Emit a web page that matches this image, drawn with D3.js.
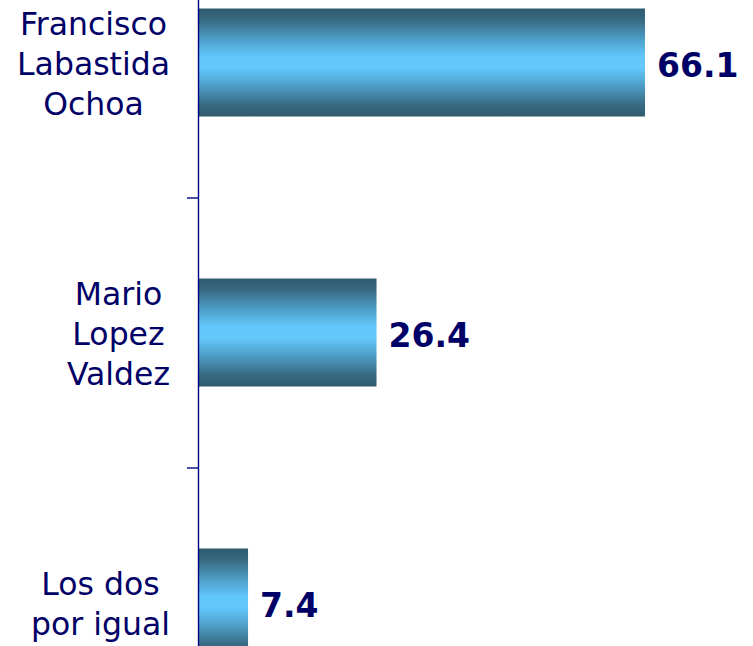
<!DOCTYPE html>
<html>
<head>
<meta charset="utf-8">
<script src="https://cdn.jsdelivr.net/npm/d3@7"></script>
<style>
  body { margin: 0; background: #fff; }
  svg { display: block; }
  text { font-family: "DejaVu Sans", Verdana, sans-serif; fill: #000066; }
</style>
</head>
<body>
<div id="chart"></div>
<script>
"use strict";

// data
var categories = ["Francisco Labastida Ochoa", "Mario Lopez Valdez", "Los dos por igual"];
var labelLines = [["Francisco", "Labastida", "Ochoa"], ["Mario", "Lopez", "Valdez"], ["Los dos", "por igual"]];
var values = [66.1, 26.4, 7.4];

var width = 753, height = 646;

var svg = d3.select("#chart").append("svg")
    .attr("width", width)
    .attr("height", height);

// gradient for the bars (dark edges, light middle)
var grad = svg.append("defs").append("linearGradient")
    .attr("id", "barGrad")
    .attr("x1", 0).attr("y1", 0).attr("x2", 0).attr("y2", 1);
[[0, "#2f5b70"], [0.1, "#37687f"], [0.3, "#4fa2cc"], [0.45, "#63c8fc"],
 [0.55, "#63c8fc"], [0.7, "#4fa2cc"], [0.9, "#37687f"], [1, "#2f5b70"]]
    .forEach(function (s) {
        grad.append("stop").attr("offset", s[0]).attr("stop-color", s[1]);
    });

// scales (plot area runs past the visible page at top and bottom)
var x = d3.scaleLinear().domain([0, 66.1]).range([198, 645]);
var y = d3.scaleBand().domain(categories)
    .range([-72.5, 737.5])
    .paddingInner(0.6)
    .paddingOuter(0.3);
var yEdge = d3.scaleLinear().domain([0, categories.length]).range([-72.5, 737.5]);

// bars
svg.selectAll("rect.bar")
    .data(values)
    .enter().append("rect")
    .attr("class", "bar")
    .attr("x", x(0))
    .attr("y", function (d, i) { return y(categories[i]); })
    .attr("width", function (d) { return x(d) - x(0); })
    .attr("height", y.bandwidth())
    .attr("fill", "url(#barGrad)");

// value labels
svg.selectAll("text.value")
    .data(values)
    .enter().append("text")
    .attr("class", "value")
    .attr("x", function (d) { return x(d) + 12; })
    .attr("y", function (d, i) { return y(categories[i]) + y.bandwidth() / 2 + 14.5; })
    .style("font-size", "33px")
    .style("font-weight", "bold")
    .text(function (d) { return d.toFixed(1); });

// axis with ticks between categories
var axis = svg.append("g")
    .attr("transform", "translate(" + x(0) + ",0)")
    .call(d3.axisLeft(yEdge).tickValues([1, 2]).tickSize(11).tickSizeOuter(0).tickFormat(""));
axis.selectAll("path, line").attr("stroke", "#000080").attr("stroke-width", 1.4);

// category labels: centred lines, block right edge at x = 170
var lineH = 40;
labelLines.forEach(function (lines, i) {
    var cy = y(categories[i]) + y.bandwidth() / 2;
    var g = svg.append("g");
    var texts = g.selectAll("text")
        .data(lines)
        .enter().append("text")
        .attr("text-anchor", "middle")
        .style("font-size", "31.5px")
        .attr("y", function (d, j) { return cy + 12 + (j - (lines.length - 1) / 2) * lineH; })
        .text(function (d) { return d; });
    var maxW = d3.max(texts.nodes(), function (n) { return n.getComputedTextLength(); });
    texts.attr("x", 170 - maxW / 2);
});
</script>
</body>
</html>
